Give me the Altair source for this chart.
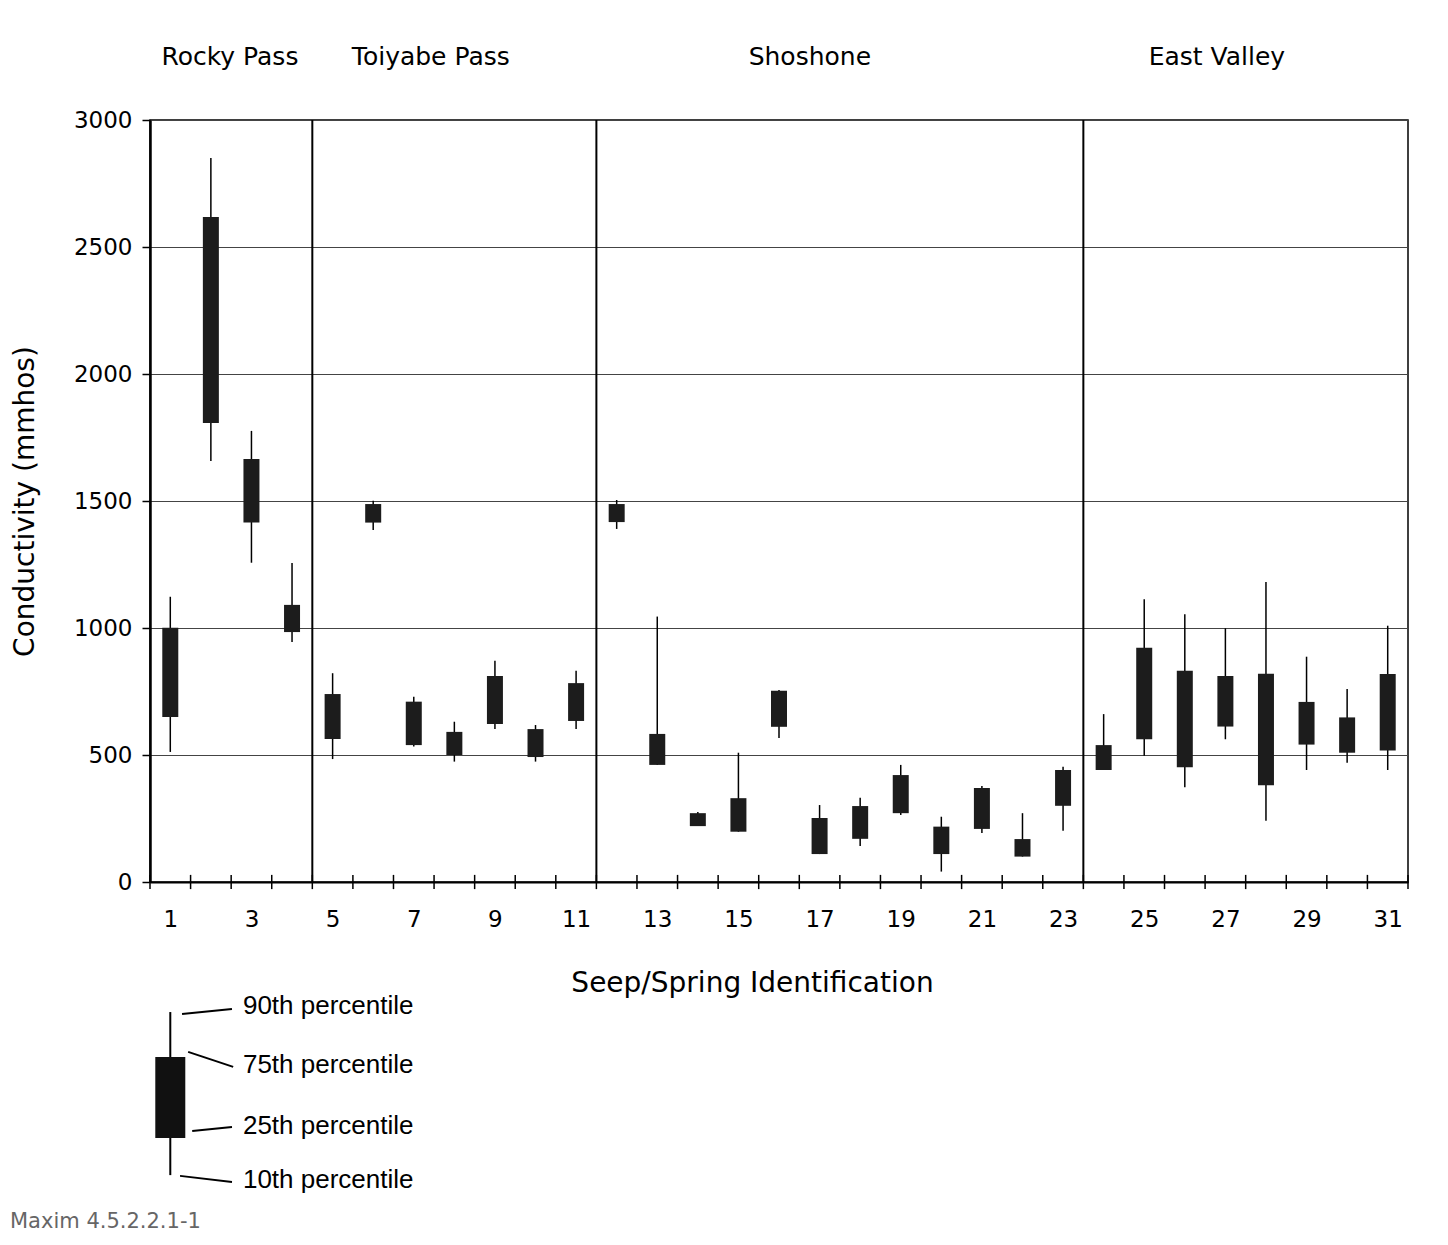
import altair as alt
import pandas as pd

# ---- data ----
ids = list(range(1, 32))
p10 = [512, 1657, 1257, 945, 484, 1386, 533, 474, 602, 474, 602,
       1390, 461, 220, 198, 567, 110, 142, 264, 41, 193, 100, 202,
       441, 497, 373, 562, 241, 441, 469, 441]
p25 = [650, 1807, 1415, 984, 563, 1415, 539, 500, 622, 492, 634,
       1417, 461, 220, 198, 611, 110, 170, 271, 110, 209, 100, 300,
       441, 562, 452, 612, 381, 541, 509, 518]
p75 = [1001, 2618, 1665, 1091, 740, 1488, 710, 591, 811, 602, 783,
       1488, 583, 271, 330, 753, 252, 299, 421, 218, 370, 169, 441,
       539, 922, 832, 811, 820, 709, 648, 819]
p90 = [1123, 2850, 1776, 1256, 822, 1501, 729, 631, 871, 618, 832,
       1504, 1045, 276, 509, 756, 303, 332, 461, 257, 378, 271, 454,
       661, 1113, 1054, 999, 1181, 887, 760, 1009]

group_names = ["Rocky Pass", "Toiyabe Pass", "Shoshone", "East Valley"]
group_centers = [2.47, 7.42, 16.76, 26.79]
group_row = [3248, 3248, 3248, 3248]
separators = [4.5, 11.5, 23.5]

y_ticks = [0, 500, 1000, 1500, 2000, 2500, 3000]
x_tick_bounds = [i + 0.5 for i in range(0, 32)]
x_tick_top = [28] * len(x_tick_bounds)
x_tick_bottom = [-28] * len(x_tick_bounds)
x_label_ids = list(range(1, 32, 2))

# legend illustration (drawn in the chart's own data units)
legend_x = [1.0]
legend_p10 = [-1154]
legend_p25 = [-1008]
legend_p75 = [-689]
legend_p90 = [-512]
legend_labels = ["90th percentile", "75th percentile", "25th percentile", "10th percentile"]
legend_label_x = [2.79, 2.79, 2.79, 2.79]
legend_label_y = [-488, -720, -961, -1173]
legend_line_x1 = [1.29, 1.44, 1.54, 1.24]
legend_line_x2 = [2.52, 2.55, 2.52, 2.52]
legend_line_y1 = [-520, -669, -980, -1157]
legend_line_y2 = [-500, -728, -965, -1181]

note_text = ["Maxim 4.5.2.2.1-1"]
note_x = [-2.95]
note_y = [-1339]

# ---- tables ----
df = pd.DataFrame({"id": ids, "p10": p10, "p25": p25, "p75": p75, "p90": p90})
groups = pd.DataFrame({"name": group_names, "x": group_centers, "y": group_row})
seps = pd.DataFrame({"x": separators})
xticks = pd.DataFrame({"x": x_tick_bounds, "y1": x_tick_top, "y2": x_tick_bottom})
leg_box = pd.DataFrame({"x": legend_x, "p10": legend_p10, "p25": legend_p25,
                        "p75": legend_p75, "p90": legend_p90})
leg_text = pd.DataFrame({"t": legend_labels, "x": legend_label_x, "y": legend_label_y})
leg_lines = pd.DataFrame({"x1": legend_line_x1, "x2": legend_line_x2,
                          "y1": legend_line_y1, "y2": legend_line_y2})
note = pd.DataFrame({"t": note_text, "x": note_x, "y": note_y})

FONT = "DejaVu Sans"

xscale = alt.Scale(domain=[0.5, 31.5], nice=False, zero=False, padding=0)
yscale = alt.Scale(domain=[0, 3000], nice=False, zero=True, padding=0)

xaxis = alt.Axis(
    values=x_label_ids, format="d",
    ticks=False, domain=True, domainColor="black", domainWidth=2.2, grid=False,
    labelFontSize=23, labelFont=FONT, labelColor="black", labelPadding=26,
    labelOverlap=False, labelFlush=False,
    title="Seep/Spring Identification", titleFont=FONT, titleFontSize=28,
    titleFontWeight="normal", titleColor="black",
    titleX=602, titleY=101, titleBaseline="middle", titleAnchor="middle",
)
yaxis = alt.Axis(
    values=y_ticks, format="d", grid=True, gridColor="#444444", gridWidth=1,
    tickSize=8, tickColor="black", tickWidth=1.5,
    domain=True, domainColor="black", domainWidth=2.5,
    labelFontSize=23, labelFont=FONT, labelColor="black", labelPadding=10,
    title="Conductivity (mmhos)", titleFont=FONT, titleFontSize=28,
    titleFontWeight="normal", titleColor="black",
    titleX=-125, titleY=381, titleAngle=-90, titleBaseline="middle",
    titleAnchor="middle",
)

base = alt.Chart(df)

whiskers = base.mark_rule(color="black", strokeWidth=1.5).encode(
    x=alt.X("id:Q", scale=xscale, axis=xaxis),
    y=alt.Y("p10:Q", scale=yscale, axis=yaxis),
    y2="p90:Q",
)
boxes = base.mark_bar(color="#1c1c1c", size=16).encode(
    x=alt.X("id:Q", scale=xscale),
    y=alt.Y("p25:Q", scale=yscale),
    y2="p75:Q",
)
tick_rules = alt.Chart(xticks).mark_rule(color="black", strokeWidth=1.5).encode(
    x=alt.X("x:Q", scale=xscale),
    y=alt.Y("y1:Q", scale=yscale), y2="y2:Q",
)
sep_rules = alt.Chart(seps).mark_rule(color="black", strokeWidth=2).encode(
    x=alt.X("x:Q", scale=xscale),
)
group_text = alt.Chart(groups).mark_text(
    font=FONT, fontSize=25, color="black", align="center", baseline="middle"
).encode(
    x=alt.X("x:Q", scale=xscale), y=alt.Y("y:Q", scale=yscale), text="name:N"
)

leg_whisker = alt.Chart(leg_box).mark_rule(color="black", strokeWidth=2).encode(
    x=alt.X("x:Q", scale=xscale), y=alt.Y("p10:Q", scale=yscale), y2="p90:Q"
)
leg_bar = alt.Chart(leg_box).mark_bar(color="#111111", size=30).encode(
    x=alt.X("x:Q", scale=xscale), y=alt.Y("p25:Q", scale=yscale), y2="p75:Q"
)
leg_conn = alt.Chart(leg_lines).mark_rule(color="black", strokeWidth=2).encode(
    x=alt.X("x1:Q", scale=xscale), x2="x2:Q",
    y=alt.Y("y1:Q", scale=yscale), y2="y2:Q",
)
leg_lbl = alt.Chart(leg_text).mark_text(
    font="Liberation Sans", fontSize=26, color="black", align="left", baseline="middle"
).encode(
    x=alt.X("x:Q", scale=xscale), y=alt.Y("y:Q", scale=yscale), text="t:N"
)
note_lbl = alt.Chart(note).mark_text(
    font=FONT, fontSize=21, color="#666666", align="left", baseline="middle"
).encode(
    x=alt.X("x:Q", scale=xscale), y=alt.Y("y:Q", scale=yscale), text="t:N"
)

chart = alt.layer(
    whiskers, boxes, tick_rules, sep_rules, group_text,
    leg_whisker, leg_bar, leg_conn, leg_lbl, note_lbl
).properties(
    width=1258, height=762,
    autosize=alt.AutoSizeParams(type="none"),
    padding={"left": 142, "top": 112, "right": 30, "bottom": 350},
    background="white",
).configure_view(
    stroke="black", strokeWidth=1.5
)

chart.save("out.html", embed_options={"renderer": "svg", "actions": False})
